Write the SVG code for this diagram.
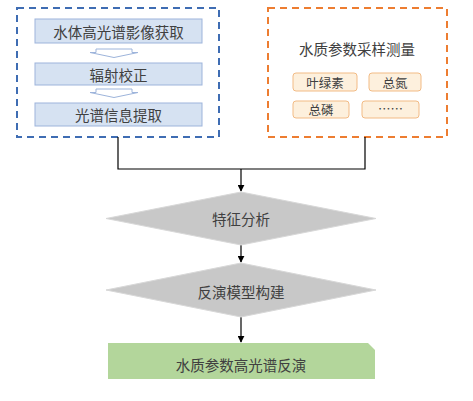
<svg xmlns="http://www.w3.org/2000/svg" width="473" height="401" viewBox="0 0 473 401">
<defs>
<style>
text{font-family:"Noto Sans CJK SC","Noto Sans",sans-serif;fill:#404040;text-anchor:middle;dominant-baseline:central}
.t{font-size:14.5px}
.s{font-size:12.5px}
.step{fill:#d6e2f2;stroke:#9db4db;stroke-width:1}
.tag{fill:#fdf0dd;stroke:#f2bb85;stroke-width:1}
.dia{fill:#c8c8c8;stroke:#d8d8d8;stroke-width:1}
.ha{fill:#fff;stroke:#9db4db;stroke-width:1}
.ln{fill:none;stroke:#000;stroke-width:1.2}
</style>
<marker id="ar" viewBox="0 0 10 10" refX="9" refY="5" markerWidth="7" markerHeight="7" orient="auto" markerUnits="userSpaceOnUse"><path d="M0,0 L10,5 L0,10 z" fill="#000"/></marker>
</defs>
<g id="blue-panel">
<rect x="17" y="8" width="202" height="129" fill="none" stroke="#3f6db3" stroke-width="2" stroke-dasharray="7,5"/>
<rect class="step" x="35" y="19" width="167" height="24"/>
<text class="t" x="118.5" y="31">水体高光谱影像获取</text>
<path class="ha" d="M96,49 H132 V52.5 H138 L114,57.5 L90,52.5 H96 Z"/>
<rect class="step" x="35" y="63" width="167" height="22"/>
<text class="t" x="118.5" y="74">辐射校正</text>
<path class="ha" d="M96,89 H132 V92.5 H138 L114,97.5 L90,92.5 H96 Z"/>
<rect class="step" x="35" y="103" width="167" height="23"/>
<text class="t" x="118.5" y="114.5">光谱信息提取</text>
</g>
<g id="orange-panel">
<rect x="268" y="8" width="179" height="129" fill="none" stroke="#ed7d31" stroke-width="2" stroke-dasharray="7,5"/>
<text class="t" x="357" y="48">水质参数采样测量</text>
<rect class="tag" x="293" y="73" width="64" height="18" rx="3"/>
<text class="s" x="325" y="82">叶绿素</text>
<rect class="tag" x="369" y="73" width="52" height="18" rx="3"/>
<text class="s" x="395" y="82">总氮</text>
<rect class="tag" x="293" y="101" width="56" height="17" rx="3"/>
<text class="s" x="321" y="109.5">总磷</text>
<rect class="tag" x="362" y="101" width="57" height="17" rx="3"/>
<text class="s" x="390.5" y="108">……</text>
</g>
<g id="connectors">
<path class="ln" d="M118,137 V169 H365 V137"/>
<path class="ln" d="M241,169 V191" marker-end="url(#ar)"/>
<path class="ln" d="M241,245 V262" marker-end="url(#ar)"/>
<path class="ln" d="M241,317 V342" marker-end="url(#ar)"/>
</g>
<g id="feature">
<polygon class="dia" points="241,192 376,218.5 241,245 106,218.5"/>
<text class="t" x="241" y="218">特征分析</text>
</g>
<g id="model">
<polygon class="dia" points="241,263 376,290 241,317 106,290"/>
<text class="t" x="241" y="291">反演模型构建</text>
</g>
<g id="result">
<path d="M108,343 H368 L375,350 V379 H108 Z" fill="#b3d69b"/>
<text class="t" x="241" y="364">水质参数高光谱反演</text>
</g>
</svg>
